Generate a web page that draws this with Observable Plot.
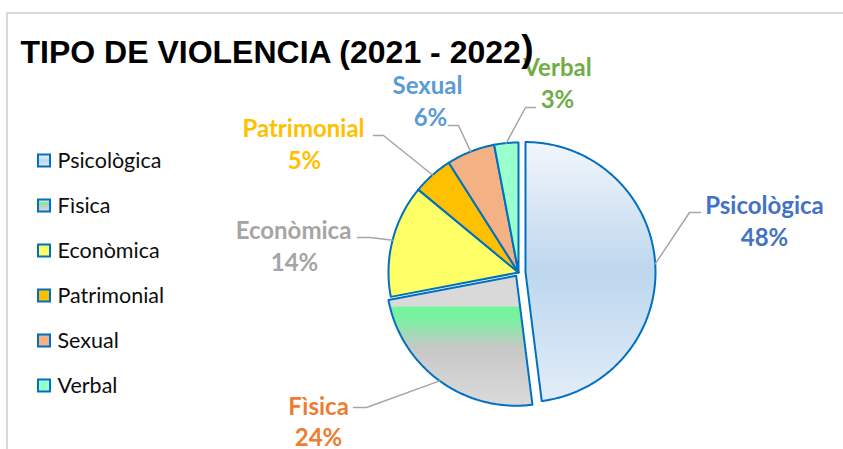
<!DOCTYPE html>
<html><head><meta charset="utf-8">
<script src="https://cdn.jsdelivr.net/npm/d3@7"></script>
<script src="https://cdn.jsdelivr.net/npm/@observablehq/plot@0.6"></script>
<style>
body{margin:0;background:#fff;}
#wrap{position:relative;width:843px;height:449px;overflow:hidden;background:#fff;}
#frame{position:absolute;left:6px;top:12px;width:900px;height:500px;border:2px solid #D9D9D9;box-sizing:border-box;}
#chart{position:absolute;left:0;top:0;}
</style></head>
<body>
<div id="wrap"><div id="frame"></div>
<svg width="0" height="0" style="position:absolute">
<defs>
<linearGradient id="gPsi" x1="0" y1="0" x2="0" y2="1">
 <stop offset="0" stop-color="#F2F6FC"/>
 <stop offset="0.5" stop-color="#BDD7EE"/>
 <stop offset="1" stop-color="#E2EDF8"/>
</linearGradient>
<linearGradient id="gFis" x1="0" y1="0" x2="0" y2="1">
 <stop offset="0" stop-color="#D9D9D9"/>
 <stop offset="0.235" stop-color="#D9D9D9"/>
 <stop offset="0.24" stop-color="#6FF79A"/>
 <stop offset="0.34" stop-color="#7DEFA2"/>
 <stop offset="0.55" stop-color="#C6C8C6"/>
 <stop offset="0.8" stop-color="#D2D2D2"/>
 <stop offset="1" stop-color="#DADADA"/>
</linearGradient>
</defs></svg>
<div id="chart"></div></div>
<script>
// ---- data ----
const categories = ["Psicològica", "Fìsica", "Econòmica", "Patrimonial", "Sexual", "Verbal"];
const values = [48, 24, 14, 5, 6, 3];
const titleText = "TIPO DE VIOLENCIA (2021 - 2022";

// ---- styles / layout ----
const fills = ["url(#gPsi)", "url(#gFis)", "#FFFF66", "#FFC000", "#F4B183", "#99FFCC"];
const labelColors = ["#4472C4", "#ED7D31", "#A5A5A5", "#FFC000", "#5B9BD5", "#70AD47"];
const explode = [7, 4, 0, 0, 0, 0];
const leaderElbow = [[689,212],[366,407],[370,237],[383,135],[458,125],[525,107]];
const leaderEnd = [[700,212],[353,407],[357,237],[373,135],[448,125],[535,107]];
const labelName = [[764,213],[318,414],[293,238],[303,136],[427,93],[557,75]];
const labelPct = [[764,245],[318,445],[294,270],[304,168],[430,125],[557,107]];
const cx = 518, cy = 272, R = 130;
const labelFs = 24, legendFs = 21.5, titleFs = 32;

const total = d3.sum(values);
let acc = 0;
const slices = categories.map((name, i) => {
  const a0 = acc / total * 2 * Math.PI; acc += values[i];
  const a1 = acc / total * 2 * Math.PI;
  const mid = (a0 + a1) / 2;
  return {name, i, a0, a1, mid, ox: explode[i] * Math.sin(mid), oy: -explode[i] * Math.cos(mid)};
});
function slicePts(s) {
  const pts = [{x: cx + s.ox, y: cy + s.oy}];
  const n = Math.max(2, Math.ceil((s.a1 - s.a0) / (Math.PI / 360)));
  for (let k = 0; k <= n; k++) {
    const a = s.a0 + (s.a1 - s.a0) * k / n;
    pts.push({x: cx + s.ox + R * Math.sin(a), y: cy + s.oy - R * Math.cos(a)});
  }
  pts.push(pts[0]);
  return pts;
}
const leaders = slices.flatMap(s => {
  const st = {x: cx + s.ox + R * Math.sin(s.mid), y: cy + s.oy - R * Math.cos(s.mid)};
  return [
    {k: s.i, x: st.x, y: st.y},
    {k: s.i, x: leaderElbow[s.i][0], y: leaderElbow[s.i][1]},
    {k: s.i, x: leaderEnd[s.i][0], y: leaderEnd[s.i][1]}
  ];
});
const labels = slices.map(s => ({
  name: s.name, pct: Math.round(values[s.i] / total * 100) + "%", color: labelColors[s.i],
  nx: labelName[s.i][0], ny: labelName[s.i][1] - 0.32 * labelFs,
  px: labelPct[s.i][0], py: labelPct[s.i][1] - 0.32 * labelFs
}));
const legend = categories.map((name, i) => ({name, y: 160.5 + 45 * i, fill: fills[i]}));

const titleDy = 62 - 0.71 * titleFs;
const parenDy = 61 - 0.71 * 37;
const chart = Plot.plot({
  width: 843, height: 449, margin: 0,
  x: {domain: [0, 843], range: [0, 843], axis: null},
  y: {domain: [0, 449], range: [0, 449], axis: null},
  color: {type: "identity"},
  style: {background: "transparent", overflow: "visible"},
  marks: [
    ...slices.map(s => Plot.line(slicePts(s), {x: "x", y: "y", fill: fills[s.i], stroke: "#0070C0", strokeWidth: 2, strokeLinejoin: "round", curve: "linear"})),
    Plot.line(leaders, {x: "x", y: "y", z: "k", stroke: "#A6A6A6", strokeWidth: 1.5, curve: "linear"}),
    Plot.text(labels, {x: "nx", y: "ny", text: "name", fill: "color", fontSize: labelFs, fontWeight: "bold", fontFamily: "Lato"}),
    Plot.text(labels, {x: "px", y: "py", text: "pct", fill: "color", fontSize: labelFs, fontWeight: "bold", fontFamily: "Lato"}),
    Plot.rect(legend, {x1: () => 38, x2: () => 50, y1: d => d.y - 6, y2: d => d.y + 6, fill: "fill", stroke: "#0070C0", strokeWidth: 2}),
    Plot.text(legend, {x: () => 57, y: "y", text: "name", textAnchor: "start", fill: "#0D0D0D", fontSize: legendFs, fontFamily: "Lato"}),
    Plot.text([titleText], {frameAnchor: "top-left", dx: 20, dy: titleDy, text: d => d, textAnchor: "start", lineAnchor: "top", fontSize: titleFs, fontWeight: "bold", fontFamily: "Liberation Sans", fill: "#000"}),
    Plot.text([")"], {frameAnchor: "top-left", dx: 525, dy: parenDy, text: d => d, textAnchor: "start", lineAnchor: "top", fontSize: 37, fontWeight: "bold", fontFamily: "Liberation Sans", fill: "#000"})
  ]
});
document.getElementById("chart").appendChild(chart);
// place the closing parenthesis right after the title
const texts = chart.querySelectorAll("text");
const titleEl = [...texts].find(t => t.textContent === titleText);
const parenEl = [...texts].find(t => t.textContent === ")");
if (titleEl && parenEl) {
  const w = titleEl.getComputedTextLength();
  const g = parenEl.closest("g");
  g.setAttribute("transform", `translate(${20 + w + 1},${parenDy})`);
}
</script>
</body></html>
